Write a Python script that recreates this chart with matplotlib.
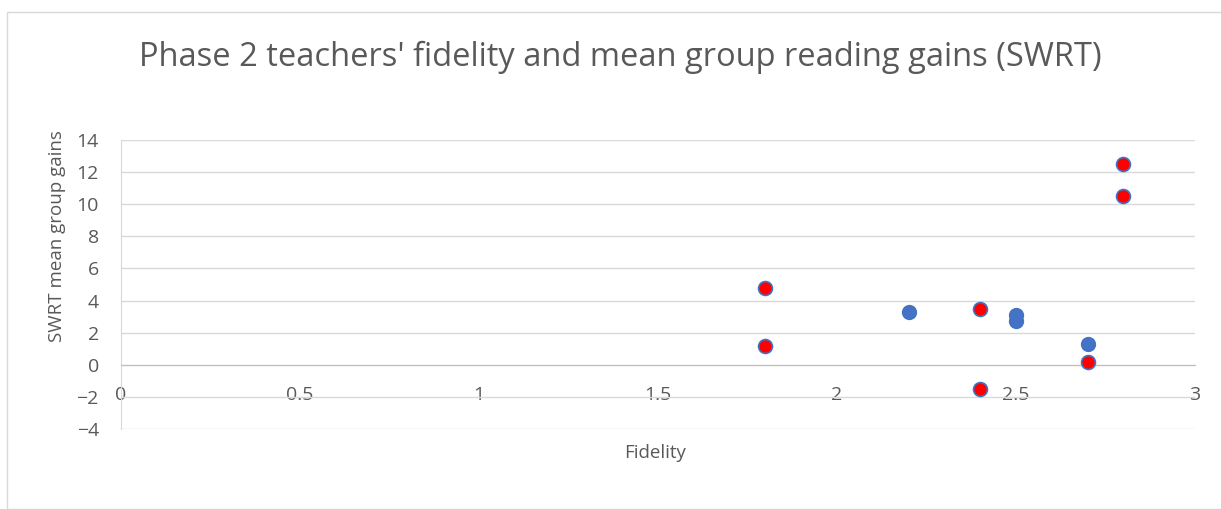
import matplotlib
matplotlib.use("Agg")
import matplotlib.pyplot as plt
from matplotlib.patches import Rectangle

# fidelity / gain pairs
blue_x = [2.2, 2.5, 2.5, 2.7]
blue_y = [3.3, 3.1, 2.7, 1.3]
red_x = [1.8, 1.8, 2.4, 2.4, 2.7, 2.8, 2.8]
red_y = [4.8, 1.2, 3.5, -1.5, 0.2, 12.5, 10.5]

x_ticks = [0, 0.5, 1, 1.5, 2, 2.5, 3]
x_tick_labels = ["0", "0.5", "1", "1.5", "2", "2.5", "3"]
y_ticks = [-4, -2, 0, 2, 4, 6, 8, 10, 12, 14]

plt.rcParams['font.family'] = ['Open Sans', 'DejaVu Sans']
txt = '#595959'

W, H = 1221, 509
fig = plt.figure(figsize=(W / 100, H / 100), dpi=100)

# chart frame
fig.patches.append(Rectangle((7 / W, 0), 1.0, 1 - 12 / H, transform=fig.transFigure,
                             fill=False, edgecolor='#D9D9D9', linewidth=1))

ax = fig.add_axes([121 / W, (H - 429) / H, 1074 / W, 289 / H])
ax.set_xlim(0, 3)
ax.set_ylim(-4, 14)
ax.set_xticks(x_ticks)
ax.set_xticklabels(x_tick_labels)
ax.set_yticks(y_ticks)
ax.yaxis.grid(True, color='#D9D9D9', linewidth=1)
ax.set_axisbelow(True)

ax.spines['top'].set_visible(False)
ax.spines['right'].set_visible(False)
ax.spines['left'].set_color('#D9D9D9')
ax.spines['bottom'].set_position(('data', 0))
ax.spines['bottom'].set_color('#BFBFBF')
ax.tick_params(axis='both', length=0, labelsize=14, labelcolor=txt)
ax.tick_params(axis='x', pad=15)
ax.tick_params(axis='y', pad=16)

ax.scatter(blue_x, blue_y, s=100, color='#4472C4', edgecolors='#4472C4', linewidths=1, zorder=3)
ax.scatter(red_x, red_y, s=100, color='#FF0000', edgecolors='#4472C4', linewidths=1.2, zorder=3)

fig.text(620 / W, 1 - 57 / H, "Phase 2 teachers' fidelity and mean group reading gains (SWRT)",
         ha='center', va='center', fontsize=23.5, color=txt)
fig.text(655 / W, 1 - 453 / H, "Fidelity", ha='center', va='center', fontsize=13.5, color=txt)
fig.text(57 / W, 1 - 236 / H, "SWRT mean group gains", ha='center', va='center',
         rotation=90, fontsize=13.5, color=txt)

fig.savefig("out.png", dpi=100)
